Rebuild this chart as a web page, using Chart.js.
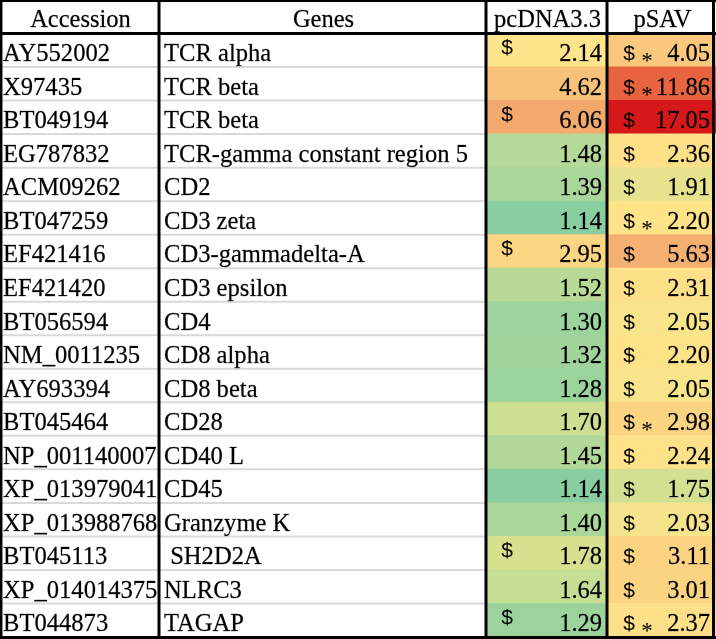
<!DOCTYPE html>
<html><head><meta charset="utf-8">
<script src="https://cdn.jsdelivr.net/npm/chart.js@4"></script>
<style>html,body{margin:0;padding:0;background:#fff}#wrap{width:716px;height:639px}</style>
</head><body><div id="wrap"><canvas id="c" width="716" height="639"></canvas></div>
<script>
// ---- data ----
const headers = ["Accession", "Genes", "pcDNA3.3", "pSAV"];
const accessions = ["AY552002","X97435","BT049194","EG787832","ACM09262","BT047259","EF421416","EF421420","BT056594","NM_0011235","AY693394","BT045464","NP_001140007","XP_013979041","XP_013988768","BT045113","XP_014014375","BT044873"];
const genes = ["TCR alpha","TCR beta","TCR beta","TCR-gamma constant region 5","CD2","CD3 zeta","CD3-gammadelta-A","CD3 epsilon","CD4","CD8 alpha","CD8 beta","CD28","CD40 L","CD45","Granzyme K"," SH2D2A","NLRC3","TAGAP"];
const pcDNA = [2.14,4.62,6.06,1.48,1.39,1.14,2.95,1.52,1.30,1.32,1.28,1.70,1.45,1.14,1.40,1.78,1.64,1.29];
const pSAV = [4.05,11.86,17.05,2.36,1.91,2.20,5.63,2.31,2.05,2.20,2.05,2.98,2.24,1.75,2.03,3.11,3.01,2.37];
const pcDNAMarks = ["$","","$","","","","$","","","","","","","","","$","","$"];
const pSAVMarks = ["$*","$*","$","$","$","$*","$","$","$","$","$","$*","$","$","$","$","$","$*"];

// ---- layout / style ----
const COLS = [0, 159, 486, 607, 716];
const SERIF = '"Liberation Serif", "Times New Roman", serif';
const SANS = '"Liberation Sans", Arial, sans-serif';
const STOPS = [[1.14,[137,206,160]],[1.5,[183,218,151]],[1.8,[216,225,144]],[2.1,[254,229,138]],[3.0,[251,212,129]],[4.6,[248,194,122]],[6.0,[243,169,108]],[11.9,[232,100,63]],[17.05,[214,24,26]]];
function heat(v){
  if (v <= STOPS[0][0]) return 'rgb(' + STOPS[0][1].join(',') + ')';
  for (let i = 1; i < STOPS.length; i++) {
    if (v <= STOPS[i][0]) {
      const [a, ca] = STOPS[i-1], [b, cb] = STOPS[i];
      const t = (v - a) / (b - a);
      return 'rgb(' + ca.map((c, k) => Math.round(c + (cb[k] - c) * t)).join(',') + ')';
    }
  }
  return 'rgb(' + STOPS[STOPS.length-1][1].join(',') + ')';
}

const rowLabels = ["header", ...accessions];

function txt(ctx, s, x, y) {
  ctx.fillText(s, x, y);
  ctx.strokeText(s, x, y);
}

const tablePlugin = {
  id: 'table',
  afterDatasetsDraw(chart) {
    const ctx = chart.ctx, xs = chart.scales.x, ys = chart.scales.y;
    const step = ys.getPixelForValue(1) - ys.getPixelForValue(0);
    const X = COLS.map(c => xs.getPixelForValue(c));
    const top = ys.getPixelForValue(0) - step / 2;
    const bottom = ys.getPixelForValue(rowLabels.length - 1) + step / 2;
    ctx.save();
    // light row separators in the text columns
    ctx.strokeStyle = '#d9d9d9';
    ctx.lineWidth = 2;
    for (let i = 2; i < rowLabels.length; i++) {
      const y = ys.getPixelForValue(i) - step / 2;
      ctx.beginPath(); ctx.moveTo(X[0], y); ctx.lineTo(X[2], y); ctx.stroke();
    }
    // black grid lines
    ctx.strokeStyle = '#000';
    ctx.lineWidth = 3;
    const hy = ys.getPixelForValue(1) - step / 2;
    ctx.beginPath(); ctx.moveTo(X[0], hy); ctx.lineTo(X[4], hy); ctx.stroke();
    [X[1], X[2], X[3]].forEach(x => { ctx.beginPath(); ctx.moveTo(x, top); ctx.lineTo(x, bottom + 2); ctx.stroke(); });
    ctx.beginPath(); ctx.moveTo(X[0], bottom + 0.5); ctx.lineTo(X[4], bottom + 0.5); ctx.stroke();
    ctx.beginPath(); ctx.moveTo(X[4] - 2.5, top); ctx.lineTo(X[4] - 2.5, bottom + 2); ctx.stroke();
    ctx.lineWidth = 2.5;
    ctx.beginPath(); ctx.moveTo(X[0] + 1.2, top); ctx.lineTo(X[0] + 1.2, bottom + 2); ctx.stroke();
    ctx.lineWidth = 2;
    ctx.beginPath(); ctx.moveTo(X[0], top + 1); ctx.lineTo(X[4], top + 1); ctx.stroke();

    // header text
    ctx.fillStyle = '#000';
    ctx.strokeStyle = 'rgba(0,0,0,0.6)';
    ctx.lineWidth = 0.35;
    ctx.font = '24.5px ' + SERIF;
    ctx.textBaseline = 'alphabetic';
    ctx.textAlign = 'center';
    const hc = ys.getPixelForValue(0);
    headers.forEach((h, k) => txt(ctx, h, (X[k] + X[k+1]) / 2 + 1, hc + 10));

    // body text
    accessions.forEach((acc, i) => {
      const yc = ys.getPixelForValue(i + 1);
      const by = yc + 11;
      ctx.font = '24.6px ' + SERIF;
      ctx.textAlign = 'left';
      txt(ctx, acc, X[0] + 3, by);
      txt(ctx, genes[i], X[1] + 5, by);
      ctx.font = '24.5px ' + SERIF;
      ctx.textAlign = 'right';
      txt(ctx, pcDNA[i].toFixed(2), X[3] - 5, by);
      txt(ctx, pSAV[i].toFixed(2), X[4] - 6, by);
      ctx.textAlign = 'center';
      ctx.font = '21px ' + SANS;
      if (pcDNAMarks[i].includes('$')) ctx.fillText('$', X[2] + 21, yc + 4);
      if (pSAVMarks[i].includes('$')) ctx.fillText('$', X[3] + 22, yc + 10);
      if (pSAVMarks[i].includes('*')) {
        ctx.font = '23px ' + SERIF;
        ctx.fillText('*', X[3] + 40, yc + 18);
      }
    });
    ctx.restore();
  }
};

new Chart(document.getElementById('c'), {
  type: 'bar',
  data: {
    labels: rowLabels,
    datasets: [
      { label: 'pcDNA3.3', data: pcDNA.map((v, i) => ({ y: accessions[i], x: [COLS[2], COLS[3]] })), backgroundColor: pcDNA.map(heat) },
      { label: 'pSAV', data: pSAV.map((v, i) => ({ y: accessions[i], x: [COLS[3], COLS[4]] })), backgroundColor: pSAV.map(heat) }
    ]
  },
  options: {
    indexAxis: 'y',
    responsive: false,
    animation: false,
    events: [],
    layout: { padding: { top: 0, left: 0, right: 0, bottom: 2 } },
    datasets: { bar: { grouped: false, categoryPercentage: 1, barPercentage: 1, borderWidth: 0, borderSkipped: false, inflateAmount: 0.5 } },
    plugins: { legend: { display: false }, tooltip: { enabled: false } },
    scales: {
      x: { type: 'linear', min: 0, max: 716, display: false },
      y: { type: 'category', display: false, offset: true }
    }
  },
  plugins: [tablePlugin]
});
</script>
</body></html>
